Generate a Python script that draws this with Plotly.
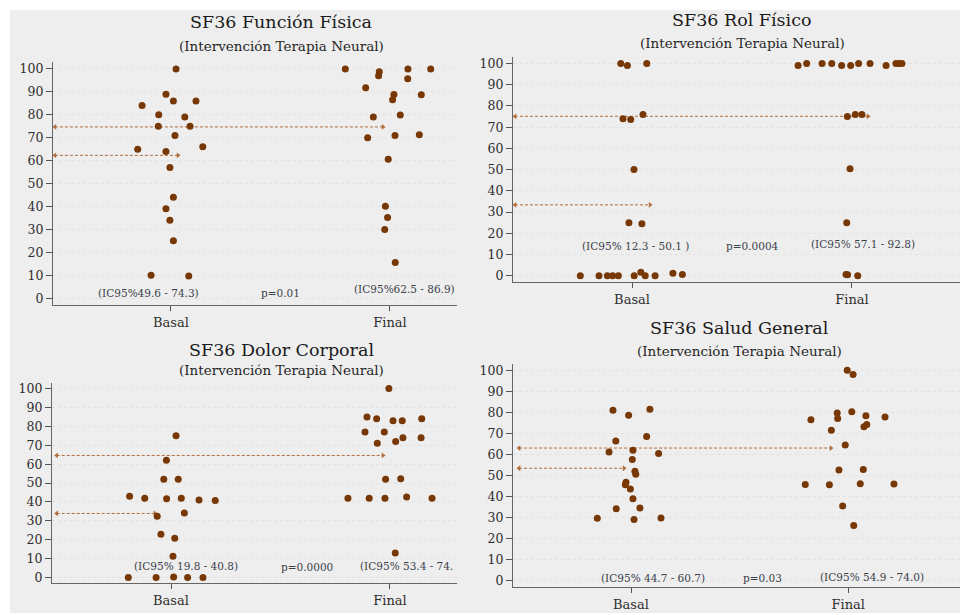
import plotly.graph_objects as go

# ---- Data: SF36 scores before (Basal) and after (Final) neural therapy ----
# Each group: observed scores and horizontal jitter (in category units)
ff_basal = [100, 89, 86, 86, 84, 80, 79, 75, 75, 71, 65, 64, 66, 57, 44, 39, 34, 25, 10, 9.7]
ff_basal_jit = [0.023, -0.023, 0.011, 0.114, -0.132, -0.056, 0.063, -0.058, 0.087, 0.018,
                -0.152, -0.023, 0.145, -0.005, 0.011, -0.023, -0.005, 0.011, -0.091, 0.081]
ff_final = [100, 98.8, 97, 100, 100, 95.7, 91.8, 88.9, 86.6, 88.7, 79, 79.9, 70, 71, 71.3, 60.6, 40.1, 35.2, 30, 15.6]
ff_final_jit = [-0.204, -0.049, -0.052, 0.082, 0.186, 0.081, -0.111, 0.018, 0.012, 0.143,
                -0.076, 0.047, -0.102, 0.023, 0.134, -0.008, -0.021, -0.011, -0.024, 0.024]

rf_basal = [100, 99, 100, 74, 73.6, 76, 50, 25, 24.5, 0, 0, 0, 0, 0, 0, 1.7, 0, 0, 1.2, 0.6]
rf_basal_jit = [-0.051, -0.021, 0.067, -0.041, -0.006, 0.050, 0.009, -0.014, 0.045, -0.235,
                -0.150, -0.112, -0.088, -0.062, 0.010, 0.040, 0.060, 0.105, 0.186, 0.229]
rf_final = [99, 100, 100, 100, 99, 99, 100, 100, 99, 100, 100, 100, 75, 76, 76, 50.4, 25, 0.6, 0.5, 0]
rf_final_jit = [-0.245, -0.206, -0.136, -0.092, -0.047, -0.006, 0.030, 0.082, 0.155, 0.200,
                0.214, 0.227, -0.021, 0.015, 0.045, -0.009, -0.024, -0.027, -0.020, 0.026]

dc_basal = [75, 62, 52, 52, 43, 42, 41.7, 42, 41, 40.8, 32.4, 34.1, 22.9, 20.8, 11.2, 0, 0, 0.3, 0, 0]
dc_basal_jit = [0.023, -0.021, -0.033, 0.033, -0.189, -0.120, -0.020, 0.047, 0.128, 0.202,
                -0.063, 0.061, -0.046, 0.017, 0.009, -0.195, -0.068, 0.012, 0.076, 0.146]
dc_final = [100, 85, 84, 83, 83, 84, 77, 77, 71, 72, 74, 74, 52, 52.3, 42, 42, 42, 42.6, 42, 13]
dc_final_jit = [-0.005, -0.105, -0.061, 0.014, 0.056, 0.145, -0.114, -0.026, -0.058, 0.026,
                0.059, 0.142, -0.020, 0.049, -0.192, -0.095, -0.023, 0.076, 0.192, 0.024]

sg_basal = [81, 81.5, 78.7, 68.6, 66.4, 61.2, 62, 60.5, 57.6, 52.1, 50.7, 46.8, 45.6, 43.6, 39, 34.2, 34.6, 29.8, 29.1, 29.9]
sg_basal_jit = [-0.083, 0.087, -0.011, 0.072, -0.070, -0.101, 0.009, 0.127, 0.006, 0.018,
                0.022, -0.023, -0.026, -0.003, 0.009, -0.068, 0.041, -0.155, 0.014, 0.138]
sg_final = [100, 98, 79.8, 77.1, 80.3, 78.4, 77.8, 76.5, 74.3, 73.2, 71.5, 64.5, 52.7, 52.9, 45.8, 45.6, 46.1, 46, 35.6, 26.3]
sg_final_jit = [-0.005, 0.022, -0.051, -0.049, 0.016, 0.081, 0.169, -0.172, 0.085, 0.072,
                -0.078, -0.014, -0.043, 0.069, -0.198, -0.087, 0.055, 0.210, -0.026, 0.025]

titles = ["SF36 Función Física", "SF36 Rol Físico", "SF36 Dolor Corporal", "SF36 Salud General"]
subtitle = "(Intervención Terapia Neural)"
groups = ["Basal", "Final"]

# Mean reference lines: [basal level, final level] and where each arrow stops on x
mean_levels = [[62.3, 74.7], [33.4, 75.1], [33.9, 64.6], [53.5, 63.1]]
arrow_ends = [[1.032, 1.968], [1.082, 2.073], [0.927, 1.968], [0.968, 1.920]]
arrow_starts = [0.470, 0.468, 0.478, 0.485]

ci_basal = ["(IC95%49.6 - 74.3)", "(IC95% 12.3 - 50.1 )", "(IC95% 19.8 - 40.8)", "(IC95% 44.7 - 60.7)"]
ci_final = ["(IC95%62.5 - 86.9)", "(IC95% 57.1 - 92.8)", "(IC95% 53.4 - 74.", "(IC95% 54.9 - 74.0)"]
p_values = ["p=0.01", "p=0.0004", "p=0.0000", "p=0.03"]

panels = [
    (ff_basal, ff_basal_jit, ff_final, ff_final_jit),
    (rf_basal, rf_basal_jit, rf_final, rf_final_jit),
    (dc_basal, dc_basal_jit, dc_final, dc_final_jit),
    (sg_basal, sg_basal_jit, sg_final, sg_final_jit),
]

# ---- Layout geometry (pixels on a 960 x 615 canvas) ----
W, H = 960, 615
boxes = [  # left, right, top, bottom of each plot area
    (53, 457, 60, 305),
    (513, 960, 55, 282),
    (52, 457, 383, 585),
    (513, 960, 364, 589),
]
xranges = [[0.4612, 2.306], [0.459, 2.491], [0.4566, 2.306], [0.457, 2.514]]
yrange = [-3.0, 103.2]
title_pos = [(281, 20, 44), (742, 18, 41), (281, 350, 370), (739, 328, 351)]
# label positions in data units: (basal x, basal y, p x, p y, final x, final y)
label_pos = [
    (0.895, 2.3, 1.50, 2.3, 2.064, 4.0),
    (1.014, 14.0, 1.549, 14.0, 2.048, 14.8),
    (1.068, 6.3, 1.62, 5.6, 1.855, 6.3),
    (1.10, 1.4, 1.607, 1.4, 2.11, 1.8),
]

DOT = "#773806"
ARROW = "#b06c3a"
FONT = "DejaVu Serif"
BG = "#eeeeee"

fig = go.Figure()
layout = dict(
    width=W, height=H,
    margin=dict(l=0, r=0, t=0, b=0),
    paper_bgcolor="white",
    plot_bgcolor="white",
    showlegend=False,
    annotations=[],
    shapes=[dict(type="rect", xref="paper", yref="paper",
                 x0=10 / W, x1=1, y0=0, y1=1 - 8 / H,
                 fillcolor=BG, line=dict(width=0), layer="below")],
)

for i, (b_vals, b_jit, f_vals, f_jit) in enumerate(panels):
    n = i + 1
    xa = "x" if n == 1 else f"x{n}"
    ya = "y" if n == 1 else f"y{n}"
    l, r, t, b = boxes[i]

    # mean arrows (dashed, double-headed)
    for lvl, end in zip(mean_levels[i], arrow_ends[i]):
        fig.add_trace(go.Scatter(
            x=[arrow_starts[i], end], y=[lvl, lvl], xaxis=xa, yaxis=ya,
            mode="lines+markers",
            line=dict(color=ARROW, width=1, dash="3px,2px"),
            marker=dict(symbol=["triangle-left", "triangle-right"], size=5, color=ARROW),
            hoverinfo="skip"))

    fig.add_trace(go.Scatter(
        x=[1 + j for j in b_jit], y=b_vals, xaxis=xa, yaxis=ya, mode="markers",
        marker=dict(color=DOT, size=7, line=dict(width=0))))
    fig.add_trace(go.Scatter(
        x=[2 + j for j in f_jit], y=f_vals, xaxis=xa, yaxis=ya, mode="markers",
        marker=dict(color=DOT, size=7, line=dict(width=0))))

    key = "" if n == 1 else str(n)
    layout["xaxis" + key] = dict(
        domain=[l / W, r / W], anchor=ya, range=xranges[i],
        tickvals=[1, 2], ticktext=groups, ticks="outside", ticklen=5,
        tickcolor="#555", showline=True, linecolor="#666", linewidth=1.2,
        showgrid=False, zeroline=False,
        tickfont=dict(family=FONT, size=13, color="#2e2e2e"))
    layout["yaxis" + key] = dict(
        domain=[1 - b / H, 1 - t / H], anchor=xa, range=yrange,
        tickvals=list(range(0, 101, 10)), ticks="outside", ticklen=6,
        tickcolor="#555", showline=True, linecolor="#666", linewidth=1.2,
        showgrid=True, gridcolor="#e2e2e2", griddash="dot", gridwidth=1,
        zeroline=False,
        tickfont=dict(family=FONT, size=12.5, color="#2e2e2e"))

    cx, ty, sy = title_pos[i]
    layout["annotations"].append(dict(
        text=titles[i], xref="paper", yref="paper", x=cx / W, y=1 - ty / H,
        xanchor="center", yanchor="middle", showarrow=False,
        font=dict(family=FONT, size=17.5, color="#1a1a1a")))
    layout["annotations"].append(dict(
        text=subtitle, xref="paper", yref="paper", x=cx / W, y=1 - sy / H,
        xanchor="center", yanchor="middle", showarrow=False,
        font=dict(family=FONT, size=13.5, color="#262626")))

    bx, by, px, py, fx, fy = label_pos[i]
    for txt, x, y, anc in [(ci_basal[i], bx, by, "center"),
                           (p_values[i], px, py, "center"),
                           (ci_final[i], fx, fy, "left" if i == 2 else "center")]:
        layout["annotations"].append(dict(
            text=txt, xref=xa, yref=ya, x=x, y=y, xanchor=anc, yanchor="middle",
            showarrow=False, font=dict(family=FONT, size=10.5, color="#3a3f4a")))

fig.update_layout(**layout)
fig.write_html("out.html")
